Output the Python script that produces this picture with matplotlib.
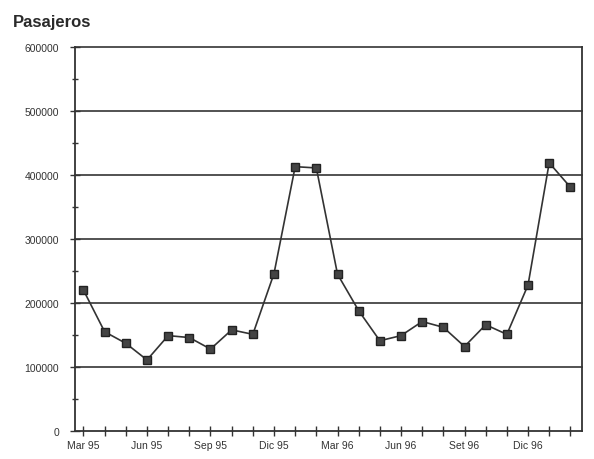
import matplotlib
matplotlib.use("Agg")
import matplotlib.pyplot as plt
import numpy as np

# monthly passengers, Mar 95 .. Feb 97
months = ['Mar 95', 'Abr 95', 'May 95', 'Jun 95', 'Jul 95', 'Ago 95',
          'Sep 95', 'Oct 95', 'Nov 95', 'Dic 95', 'Ene 96', 'Feb 96',
          'Mar 96', 'Abr 96', 'May 96', 'Jun 96', 'Jul 96', 'Ago 96',
          'Set 96', 'Oct 96', 'Nov 96', 'Dic 96', 'Ene 97', 'Feb 97']
pasajeros = [220000, 155000, 137000, 111000, 149000, 146000,
             128000, 158000, 151000, 246000, 413000, 411000,
             245000, 188000, 141000, 149000, 171000, 162000,
             132000, 166000, 151000, 228000, 419000, 381000]
labelled = ['Mar 95', 'Jun 95', 'Sep 95', 'Dic 95',
            'Mar 96', 'Jun 96', 'Set 96', 'Dic 96']
yticks = [0, 100000, 200000, 300000, 400000, 500000, 600000]

plt.rcParams['font.family'] = ['Liberation Sans', 'DejaVu Sans']

fig = plt.figure(figsize=(5.94, 4.60), dpi=100)
ax = fig.add_axes([0.1263, 0.0609, 0.8535, 0.8348])

x = np.arange(len(months))
ax.plot(x, pasajeros, color='#333333', lw=1.2, marker='s', markersize=5.5,
        markerfacecolor='#444444', markeredgecolor='#222222', zorder=3)

for v in yticks[1:]:
    ax.axhline(v, color='#444444', lw=1.3, zorder=1, clip_on=False)

ax.set_xlim(-0.4, 23.55)
ax.set_ylim(0, 600000)
ax.set_yticks(yticks)
ax.set_yticklabels([str(v) for v in yticks], fontsize=7.5, color='#333333')
ax.set_yticks(np.arange(50000, 600000, 100000), minor=True)
ax.set_xticks(x)
ax.set_xticklabels([m if m in labelled else '' for m in months],
                   fontsize=7.5, color='#333333')

ax.tick_params(axis='both', which='both', direction='inout', color='#333333',
               width=1.0)
ax.tick_params(axis='x', length=7, pad=3)
ax.tick_params(axis='y', which='major', length=7, pad=8)
ax.tick_params(axis='y', which='minor', length=5)

for s in ['left', 'bottom', 'right']:
    ax.spines[s].set_color('#333333')
    ax.spines[s].set_linewidth(1.3)
ax.spines['top'].set_visible(False)

fig.text(0.022, 0.952, 'Pasajeros', fontsize=12, fontweight='bold',
         color='#2a2a2a', ha='left', va='center')

fig.savefig('out.png', dpi=100)
